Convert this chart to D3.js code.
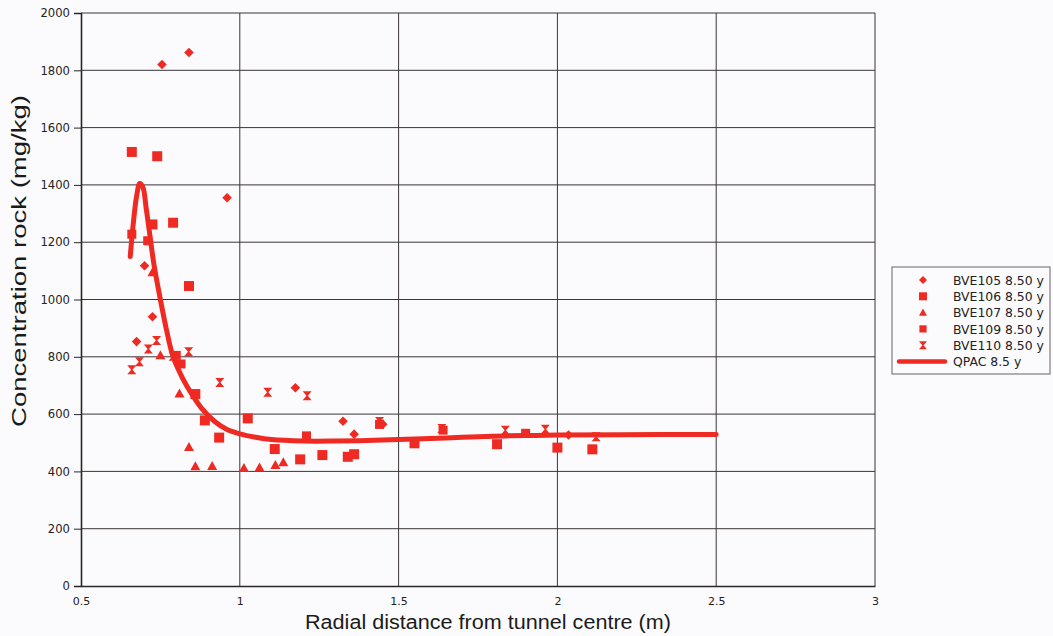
<!DOCTYPE html>
<html>
<head>
<meta charset="utf-8">
<script src="https://cdn.jsdelivr.net/npm/d3@7"></script>
<style>
  html, body { margin: 0; padding: 0; background: #fbfbfd; }
  svg { display: block; }
</style>
</head>
<body>
<svg id="chart" width="1053" height="636"></svg>
<script>
// Measured concentrations: [radial distance (m), concentration (mg/kg)]
const bve105 = [[0.755,1820],[0.84,1862],[0.96,1355],[0.70,1118],[0.725,940],[0.675,853],
  [1.175,692],[1.325,575],[1.36,530],[1.45,565],[2.035,527]];
const bve106 = [[0.66,1515],[0.74,1500],[0.79,1268],[0.725,1262],[0.84,1047],[0.86,670],
  [0.89,578],[0.935,518],[1.025,585],[1.11,478],[1.19,442],[1.26,457],[1.34,451],[1.36,460],
  [1.55,498],[1.81,495],[2.0,483],[2.11,477]];
const bve107 = [[0.725,1095],[0.75,805],[0.81,672],[0.84,485],[0.86,418],[0.913,419],
  [1.013,412],[1.062,414],[1.112,422],[1.137,432]];
const bve109 = [[0.66,1228],[0.71,1205],[0.80,805],[0.815,775],[1.21,524],[1.44,564],
  [1.64,544],[1.90,533]];
const bve110 = [[0.66,755],[0.684,783],[0.712,827],[0.738,857],[0.79,802],[0.839,818],
  [0.937,710],[1.088,676],[1.212,664],[1.44,574],[1.636,550],[1.836,544],[1.962,547],[2.122,521]];

// Model curve QPAC 8.5 y
const qpac = [[0.655,1150],[0.665,1270],[0.675,1360],[0.685,1405],[0.695,1392],[0.705,1320],
  [0.715,1240],[0.73,1120],[0.75,1000],[0.77,890],[0.79,800],[0.82,725],[0.85,668],[0.88,620],
  [0.92,575],[0.96,546],[1.0,531],[1.05,519],[1.1,511],[1.2,506],[1.3,506],[1.4,508],[1.5,511],
  [1.6,515],[1.7,519],[1.8,523],[1.9,525],[2.0,527],[2.2,528],[2.5,529]];

const xTicks = [0.5, 1, 1.5, 2, 2.5, 3];
const yTicks = [0, 200, 400, 600, 800, 1000, 1200, 1400, 1600, 1800, 2000];
const seriesNames = ["BVE105 8.50 y", "BVE106 8.50 y", "BVE107 8.50 y", "BVE109 8.50 y", "BVE110 8.50 y"];
const curveName = "QPAC 8.5 y";

const RED = "#ee2a22";
const GRID = "#3a3434";

const svg = d3.select("#chart");
const x = d3.scaleLinear().domain([0.5, 3]).range([81, 875]);
const y = d3.scaleLinear().domain([0, 2000]).range([586, 13]);

// grid
svg.append("g").selectAll("line").data(xTicks.slice(1)).join("line")
  .attr("x1", d => x(d)).attr("x2", d => x(d)).attr("y1", y(0)).attr("y2", y(2000))
  .attr("stroke", GRID).attr("stroke-width", 1);
svg.append("g").selectAll("line").data(yTicks.slice(1)).join("line")
  .attr("x1", x(0.5)).attr("x2", x(3)).attr("y1", d => y(d)).attr("y2", d => y(d))
  .attr("stroke", GRID).attr("stroke-width", 1);

// axes
const yAxis = svg.append("g").attr("transform", `translate(${x(0.5)},0)`)
  .call(d3.axisLeft(y).tickValues(yTicks).tickSize(7).tickPadding(4).tickFormat(d3.format("d")));
const xAxis = svg.append("g").attr("transform", `translate(0,${y(0)})`)
  .call(d3.axisBottom(x).tickValues(xTicks).tickSize(0).tickPadding(11).tickFormat(d => String(d)));
[yAxis, xAxis].forEach(g => {
  g.select(".domain").attr("stroke", "#2a2626").attr("stroke-width", 1.6);
  g.selectAll(".tick line").attr("stroke", "#2a2626").attr("stroke-width", 1);
  g.selectAll(".tick text").attr("fill", "#222").style("font-family", "DejaVu Sans").style("font-size", "11px");
});
yAxis.selectAll(".tick text").style("font-size", "11.6px");

// axis titles
svg.append("text").attr("x", 488).attr("y", 629).attr("text-anchor", "middle")
  .attr("textLength", 366).attr("lengthAdjust", "spacingAndGlyphs")
  .style("font-family", "Liberation Sans").style("font-size", "20px").attr("fill", "#1a1a1a")
  .text("Radial distance from tunnel centre (m)");
svg.append("text").attr("transform", "translate(26,261) rotate(-90)").attr("text-anchor", "middle")
  .attr("textLength", 332).attr("lengthAdjust", "spacingAndGlyphs")
  .style("font-family", "Liberation Sans").style("font-size", "20px").attr("fill", "#1a1a1a")
  .text("Concentration rock (mg/kg)");

// marker shapes
const shapes = {
  diamond: s => `M0,${-s}L${s},0L0,${s}L${-s},0Z`,
  square: s => `M${-s},${-s}H${s}V${s}H${-s}Z`,
  triangle: s => `M0,${-s}L${s},${s * 0.8}L${-s},${s * 0.8}Z`,
  hourglass: s => `M${-s},${-s}H${s}L${s*0.15},0L${s},${s}H${-s}L${-s*0.15},0Z`
};
const series = [
  { data: bve105, shape: "diamond", size: 4.8 },
  { data: bve106, shape: "square", size: 5 },
  { data: bve107, shape: "triangle", size: 5 },
  { data: bve109, shape: "square", size: 4.5 },
  { data: bve110, shape: "hourglass", size: 4.5 }
];

// model curve
svg.append("path").datum(qpac)
  .attr("d", d3.line().x(d => x(d[0])).y(d => y(d[1])).curve(d3.curveCatmullRom.alpha(0.5)))
  .attr("fill", "none").attr("stroke", RED).attr("stroke-width", 5)
  .attr("stroke-linecap", "round").attr("stroke-linejoin", "round");

series.forEach(s => {
  svg.append("g").selectAll("path").data(s.data).join("path")
    .attr("transform", d => `translate(${x(d[0])},${y(d[1])})`)
    .attr("d", shapes[s.shape](s.size)).attr("fill", RED);
});

// legend
const lg = svg.append("g").attr("transform", "translate(892,267)");
lg.append("rect").attr("width", 158).attr("height", 107)
  .attr("fill", "#fbfbfd").attr("stroke", "#6a6262").attr("stroke-width", 1);
series.forEach((s, i) => {
  const cy = 13 + i * 16.3;
  lg.append("path").attr("transform", `translate(31,${cy})`)
    .attr("d", shapes[s.shape](s.shape === "square" && i === 3 ? 3.6 : 4)).attr("fill", RED);
  lg.append("text").attr("x", 61).attr("y", cy + 4.7)
    .style("font-family", "DejaVu Sans").style("font-size", "12.4px").attr("fill", "#222")
    .text(seriesNames[i]);
});
const cyL = 13 + 5 * 16.3;
lg.append("line").attr("x1", 7).attr("x2", 53).attr("y1", cyL).attr("y2", cyL)
  .attr("stroke", RED).attr("stroke-width", 4.5).attr("stroke-linecap", "round");
lg.append("text").attr("x", 61).attr("y", cyL + 4.7)
  .style("font-family", "DejaVu Sans").style("font-size", "12.4px").attr("fill", "#222")
  .text(curveName);
</script>
</body>
</html>
